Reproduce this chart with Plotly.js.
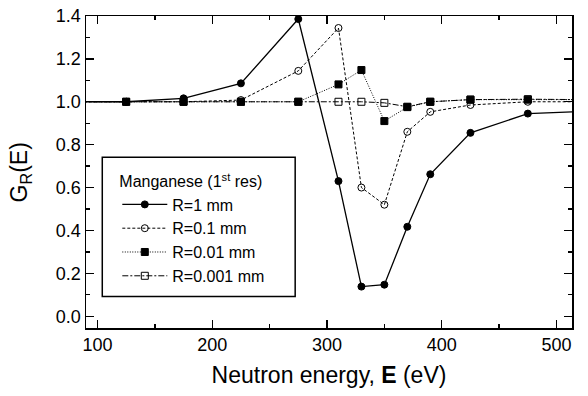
<!DOCTYPE html>
<html><head><meta charset="utf-8">
<script src="https://cdn.plot.ly/plotly-3.0.1.min.js"></script>
<style>html,body{margin:0;padding:0;background:#fff}#chart{width:588px;height:396px}</style>
</head><body><div id="chart"></div>
<script>
const energy = [75, 125, 175, 225, 275, 310, 330, 350, 370, 390, 425, 475, 525];
const r1mm    = [1.0, 1.0, 1.016, 1.086, 1.386, 0.63, 0.138, 0.147, 0.417, 0.662, 0.855, 0.945, 0.955];
const r01mm   = [1.0, 1.0, 1.0, 1.008, 1.144, 1.344, 0.60, 0.52, 0.86, 0.953, 0.985, 1.0, 1.0];
const r001mm  = [1.0, 1.0, 1.0, 1.0, 1.0, 1.081, 1.148, 0.91, 0.975, 1.0, 1.01, 1.01, 1.01];
const r0001mm = [1.0, 1.0, 1.0, 1.0, 1.0, 1.0, 1.0, 0.995, 0.977, 1.0, 1.01, 1.012, 1.01];
const seriesNames = ["R=1 mm", "R=0.1 mm", "R=0.01 mm", "R=0.001 mm"];
const legendTitle = "Manganese (1<sup>st</sup> res)";
const xTitle = "Neutron energy, <b>E</b> (eV)";
const yTitle = "G<sub>R</sub>(E)";

const styles = [
  {dash: "solid", sym: "circle", w: 1.3},
  {dash: "3px,2px", sym: "circle-open", w: 1},
  {dash: "1px,1.5px", sym: "square", w: 1},
  {dash: "6px,2px,2px,2px", sym: "square-open", w: 1}
];
const ys = [r1mm, r01mm, r001mm, r0001mm];
const traces = ys.map((y, i) => ({
  x: energy, y: y, name: seriesNames[i], type: "scatter", mode: "lines+markers",
  line: {color: "#000", width: styles[i].w, dash: styles[i].dash},
  marker: {symbol: styles[i].sym, size: 7, color: "#000", line: {color: "#000", width: 1}}
}));
const font = "Arial, 'Liberation Sans', sans-serif";
const layout = {
  width: 588, height: 396,
  margin: {l: 86, r: 16, t: 16, b: 67.5},
  paper_bgcolor: "#fff", plot_bgcolor: "#fff",
  font: {family: font, color: "#000", size: 18},
  showlegend: true,
  shapes: [{type: "rect", xref: "paper", yref: "paper", x0: 0.0335, x1: 0.4304, y0: 0.1007, y1: 0.5473,
            line: {color: "#000", width: 1.5}, fillcolor: "#fff", layer: "below"}],
  annotations: [{text: yTitle, xref: "paper", yref: "paper", x: -0.135, y: 0.5,
                 xanchor: "center", yanchor: "middle", textangle: -90, showarrow: false,
                 font: {size: 23, family: font, color: "#000"}}],
  legend: {
    x: 0.0644, y: 0.517, xanchor: "left", yanchor: "top",
    bgcolor: "rgba(0,0,0,0)", borderwidth: 0,
    font: {family: font, size: 16, color: "#000"},
    title: {text: legendTitle, font: {family: font, size: 16, color: "#000"}},
    itemwidth: 45, tracegroupgap: 0
  },
  xaxis: {
    range: [90, 513.5], showgrid: false, zeroline: false,
    showline: true, linecolor: "#000", linewidth: 1.5, mirror: "allticks",
    ticks: "inside", ticklen: 8, tickwidth: 1.3, tickcolor: "#000",
    dtick: 100, tick0: 0,
    minor: {dtick: 50, ticks: "inside", ticklen: 4, tickwidth: 1.3, tickcolor: "#000", showgrid: false},
    tickfont: {size: 18, family: font},
    title: {text: xTitle, font: {size: 23, family: font}, standoff: 13}
  },
  yaxis: {
    range: [-0.055, 1.4], showgrid: false, zeroline: false,
    showline: true, linecolor: "#000", linewidth: 1.5, mirror: "allticks",
    ticks: "inside", ticklen: 8, tickwidth: 1.3, tickcolor: "#000",
    dtick: 0.2, tick0: 0, tickformat: ".1f",
    minor: {dtick: 0.1, ticks: "inside", ticklen: 4, tickwidth: 1.3, tickcolor: "#000", showgrid: false},
    tickfont: {size: 18, family: font}
  }
};
Plotly.newPlot("chart", traces, layout, {displayModeBar: false, staticPlot: true});
</script></body></html>
